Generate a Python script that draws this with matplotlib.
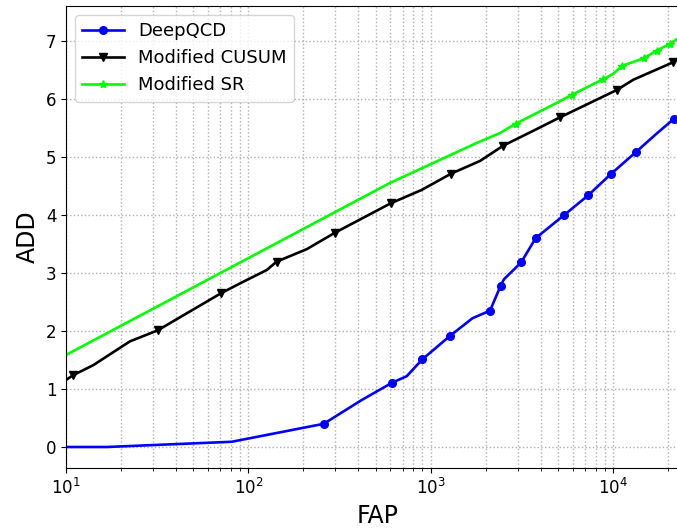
import matplotlib
matplotlib.use("Agg")
import matplotlib.pyplot as plt

# DeepQCD
deep_fap = [10, 16.7, 81, 259, 418, 615, 738, 898, 1280, 1694, 2113, 2415, 2518, 3126,
            3760, 5350, 7310, 9680, 13400, 17000, 21500]
deep_add = [0.0, 0.0, 0.09, 0.40, 0.81, 1.11, 1.22, 1.51, 1.92, 2.22, 2.35, 2.78, 2.89, 3.18,
            3.60, 3.99, 4.34, 4.70, 5.09, 5.38, 5.655]
deep_marks = [3, 5, 7, 8, 10, 11, 13, 14, 15, 16, 17, 18, 20]

# Modified CUSUM
cusum_fap = [10, 10.97, 14.1, 22.4, 31.8, 70.8, 90, 126, 143, 209, 299, 603, 891, 1291,
             1862, 2500, 3650, 5100, 10500, 12900, 21300, 23500]
cusum_add = [1.155, 1.24, 1.41, 1.82, 2.01, 2.65, 2.82, 3.05, 3.195, 3.41, 3.695, 4.20, 4.43, 4.71,
             4.93, 5.195, 5.45, 5.68, 6.155, 6.33, 6.63, 6.70]
cusum_marks = [1, 4, 5, 8, 10, 11, 13, 15, 17, 18, 20]

# Modified SR
sr_fap = [10, 597, 1786, 2393, 2918, 4900, 5940, 8830, 10000, 11200, 14750, 17300, 20500, 22400]
sr_add = [1.586, 4.55, 5.24, 5.41, 5.57, 5.93, 6.07, 6.34, 6.43, 6.57, 6.70, 6.83, 6.95, 7.03]
sr_marks = [4, 6, 7, 9, 10, 11, 12]

fig = plt.figure(figsize=(6.77, 5.30), dpi=100)
W, H = 677, 530
left_px, right_px, top_px, bot_px = 66, 690, 6, 468.3
ax = fig.add_axes([left_px / W, 1 - bot_px / H, (right_px - left_px) / W, (bot_px - top_px) / H])

ax.plot(deep_fap, deep_add, color="blue", marker="o", markersize=5.5, lw=1.9,
        markevery=deep_marks, label="DeepQCD")
ax.plot(cusum_fap, cusum_add, color="black", marker="v", markersize=6, lw=1.9,
        markevery=cusum_marks, label="Modified CUSUM")
ax.plot(sr_fap, sr_add, color="#00ff00", marker="*", markersize=6, lw=1.9,
        markevery=sr_marks, label="Modified SR")

ax.set_xscale("log")
decade_px = 182.4
ax.set_xlim(10, 10 ** (1 + (right_px - left_px) / decade_px))
ax.set_ylim(-0.367, 7.60)
ax.set_yticks(range(0, 8))
ax.grid(True, which="both", linestyle=":", color="#b0b0b0", linewidth=1)
ax.tick_params(labelsize=12)
ax.set_xlabel("FAP", fontsize=17)
ax.set_ylabel("ADD", fontsize=17)
ax.legend(loc="upper left", fontsize=13, handlelength=2.3)

fig.savefig("out.png", dpi=100)
